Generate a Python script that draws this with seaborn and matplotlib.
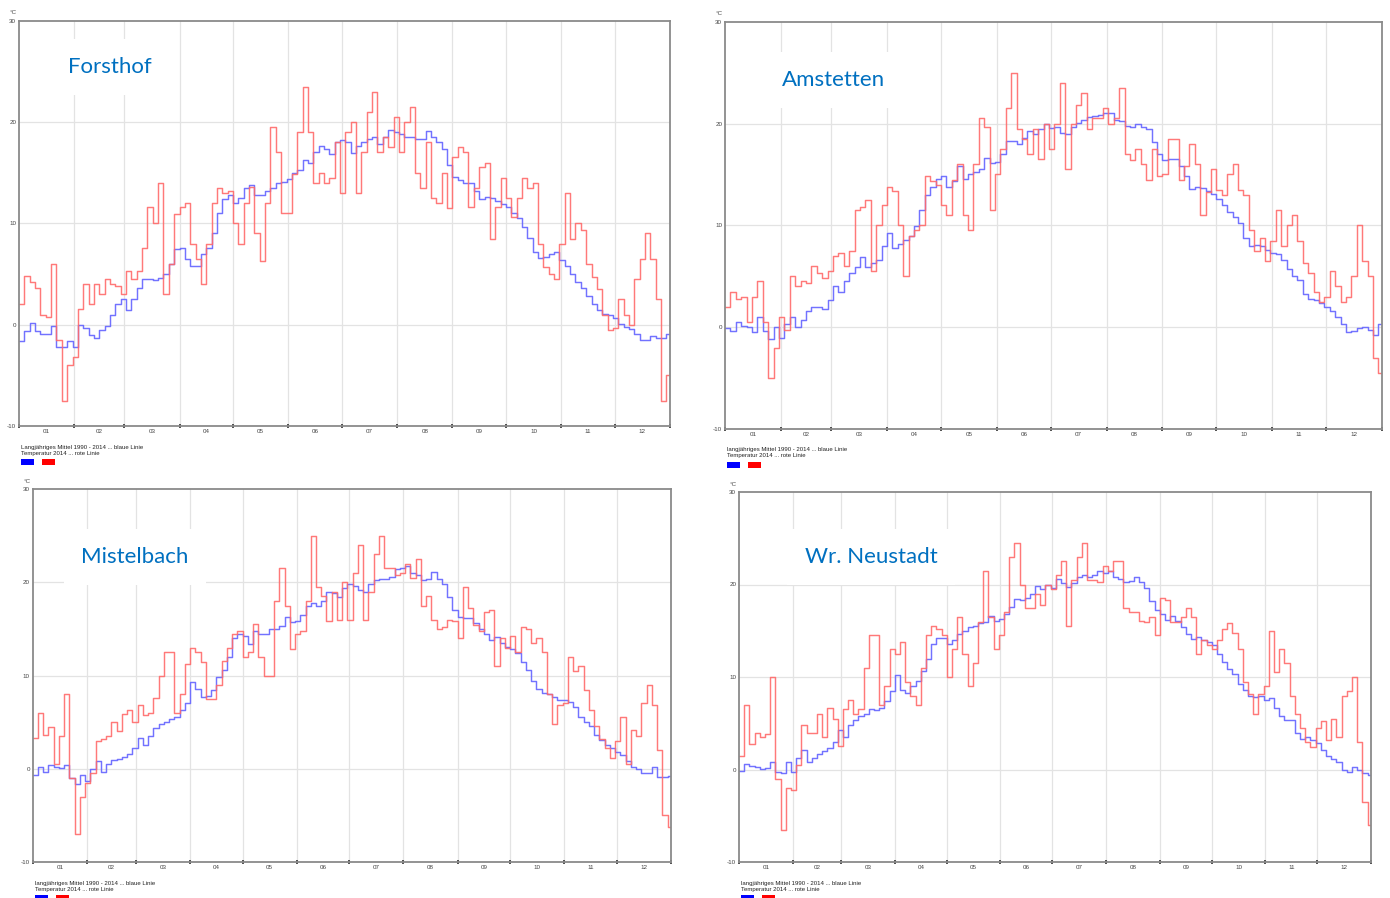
import numpy as np
import pandas as pd
import matplotlib
matplotlib.use("Agg")
import matplotlib.pyplot as plt
from matplotlib.patches import Rectangle
import seaborn as sns

# ---------------- data (3-day means, day 1 .. 365) ----------------
stations = ["Forsthof", "Amstetten", "Mistelbach", "Wr. Neustadt"]
month_labels = ["01", "02", "03", "04", "05", "06", "07", "08", "09", "10", "11", "12"]
month_starts = [0, 31, 59, 90, 120, 151, 181, 212, 243, 273, 304, 334, 365]
y_ticks = [-10, 0, 10, 20, 30]
legend_mean = "angjähriges Mittel 1990 - 2014 ... blaue Linie"
legend_2014 = "Temperatur 2014 ... rote Linie"

forsthof_2014 = [2, 4.8, 4.2, 3.6, 1.0, 0.8, 6.0, -1.5, -7.5, -4,
                 -3.2, 1.5, 4, 2, 4, 3, 4.5, 4, 3.8, 3,
                 5.3, 4.5, 5.3, 7.6, 11.6, 10, 14, 3, 6, 10.9,
                 11.6, 12, 8, 6.5, 4, 8, 12, 13.5, 13, 13.2,
                 10, 8, 12, 13.6, 9, 6.3, 12, 19.5, 17, 11,
                 11, 14.9, 19, 23.5, 19, 14, 15, 14, 14.5, 18,
                 13, 19, 20, 13, 17, 21, 23, 17, 18.5, 17.5,
                 20.5, 17, 20, 21.5, 15, 13.5, 18, 12.5, 12, 15,
                 11.5, 16.5, 17.5, 17, 11.6, 13.5, 15.6, 16, 8.5, 11.6,
                 14.5, 12.5, 10.6, 12.5, 14.5, 13.5, 14, 8, 5.7, 5,
                 4.5, 8, 13, 8.5, 10, 9.3, 6, 4.7, 3.5, 1,
                 -0.5, -0.3, 2.5, 1, 0, 4.5, 6.5, 9, 6.5, 2.5,
                 -7.5, -5]
forsthof_mean = [-1.6, -0.6, 0.2, -0.6, -0.9, -0.9, -0.1, -2.2, -2.2, -1.6,
                 -2.2, 0, -0.3, -1.0, -1.3, -0.5, -0.1, 1.0, 2.0, 2.5,
                 1.4, 2.5, 3.6, 4.5, 4.5, 4.4, 4.6, 5, 6, 7.5,
                 7.6, 6.5, 5.8, 5.8, 7, 7.6, 9, 11, 12.4, 12.8,
                 12, 12.5, 13.5, 13.8, 12.8, 12.8, 13.2, 13.5, 14, 14.1,
                 14.4, 15, 15.3, 16.3, 16, 17, 17.6, 17.3, 16.8, 18,
                 18.2, 18, 16.9, 17.6, 18, 18.3, 18.5, 17.8, 18.5, 19.2,
                 19, 18.8, 18.5, 18.5, 18.3, 18.3, 19.1, 18.5, 18, 17.3,
                 15.8, 14.6, 14.3, 14, 14, 13.2, 12.4, 12.6, 12.5, 12.2,
                 11.9, 11.6, 11, 10.5, 9.6, 8.6, 7.2, 6.6, 6.7, 7,
                 7.2, 6.4, 5.8, 5, 4.2, 3.6, 2.8, 2, 1.4, 1.1,
                 1.0, 0.7, 0.1, -0.2, -0.4, -0.9, -1.5, -1.5, -1.1, -1.3,
                 -1.3, -0.9]

amstetten_2014 = [2, 3.5, 2.8, 3, 0.5, 3, 4.5, 0.5, -5, -2,
                  1, -0.3, 5, 4, 4.5, 4.3, 6, 5.3, 4.8, 5.5,
                  7, 7.3, 6, 7.5, 11.5, 11.8, 12.5, 5.5, 10, 12,
                  13.8, 13.4, 10, 5, 9, 9.5, 10, 14.8, 14.4, 14,
                  12, 11, 14.5, 16, 11, 9.5, 16, 20.5, 19.7, 11.5,
                  15, 17.5, 21.5, 25, 19.5, 18.5, 17, 19.5, 16.5, 20,
                  17.5, 20, 24, 15.5, 20, 21.8, 23, 19.5, 20.5, 20.5,
                  21.5, 20, 20.5, 23.5, 17, 16.4, 17.5, 16, 14.5, 17.5,
                  14.8, 15, 18.5, 18.5, 14.5, 15.8, 18, 16, 11, 13.3,
                  15.5, 13.5, 13, 15, 16, 13.5, 13, 9.5, 7.5, 8.8,
                  6.5, 8.5, 11.5, 8, 10, 11, 8.5, 6.3, 5.3, 3.5,
                  2.5, 3, 5.5, 4, 2.5, 3, 5, 10, 6.5, 5,
                  -3, -4.5]
amstetten_mean = [-0.1, -0.4, 0.5, 0.1, 0, -0.5, 1, -0.4, -1.2, 0,
                  -1.1, 0.3, 1, 0, 0.7, 1.6, 2, 2, 1.8, 2.7,
                  4, 3.5, 4.5, 5.3, 5.9, 6.9, 5.9, 6.3, 6.6, 8,
                  9.2, 7.8, 8.2, 8.6, 9, 9.9, 11.5, 13, 13.8, 14.6,
                  14.8, 13.8, 14.4, 15.8, 14.6, 15, 15.2, 15.5, 16.6, 16.1,
                  16.2, 17, 18.3, 18.3, 18, 18.6, 19.3, 19, 19.5, 20,
                  19.6, 19.7, 19.1, 19, 19.7, 20.1, 20.3, 20.6, 20.7, 20.8,
                  21, 21, 20.3, 20.2, 19.8, 19.7, 20, 19.7, 19.5, 18.2,
                  17, 16.4, 16.5, 16.5, 15.8, 14.8, 13.6, 13.8, 13.7, 13.4,
                  13.1, 12.6, 12, 11.3, 10.8, 10.2, 8.8, 8, 8.1, 8,
                  7.6, 7.3, 7.2, 6.6, 5.7, 5, 4.6, 3.3, 2.8, 2.7,
                  2.4, 2, 1.6, 1, 0.3, -0.5, -0.4, -0.1, 0, -0.3,
                  -0.8, 0.3]

mistelbach_2014 = [3.3, 6, 3.6, 4.5, 0.5, 3.5, 8, -1, -7, -3,
                   -1.5, -0.5, 3, 3.2, 3.5, 5, 4, 5.9, 6.3, 5,
                   6.8, 5.8, 6, 7.6, 10, 12.5, 12.5, 6, 8, 11.2,
                   13, 12.5, 11.5, 7.5, 7.5, 9, 11.6, 13, 14.5, 14.8,
                   12, 12.5, 15.5, 12, 9.9, 10, 18, 21.5, 17.5, 12.8,
                   14.5, 14.8, 18, 25, 19.5, 18.5, 15.8, 19, 16, 20,
                   16, 21, 24, 16, 19, 23, 25, 21.5, 21.5, 20.8,
                   21, 22, 20.5, 22.5, 17.5, 18.5, 16, 15, 15.2, 16,
                   15.8, 14, 19.5, 17.2, 15.4, 14.8, 16.8, 17, 11, 14,
                   13, 14.2, 12.5, 15.2, 15, 13.5, 14, 12.5, 8, 4.8,
                   6.8, 7, 12, 10.5, 11, 8.4, 6.3, 4.6, 3.2, 2.2,
                   1.2, 3, 5.5, 0.5, 4.2, 3.5, 7, 9, 6.8, 2,
                   -5, -6.3]
mistelbach_mean = [-0.7, 0.2, -0.3, 0.4, 0.2, 0.1, 0.4, -1, -1.6, -0.7,
                   -1.3, 0, 0.8, -0.4, 0.5, 0.9, 1.0, 1.3, 1.6, 2.2,
                   3.3, 2.5, 3.5, 4.4, 4.8, 5, 5.3, 5.6, 6.3, 7,
                   9.3, 8.5, 7.7, 7.8, 8.4, 9.8, 10.6, 12, 14, 14.5,
                   14.2, 13.4, 14.8, 14.5, 14.5, 15, 15, 15.3, 16.3, 15.7,
                   15.8, 16.5, 17.5, 17.8, 17.4, 18, 19, 18.8, 18.4, 19.4,
                   19.8, 19.6, 19.2, 19, 19.8, 20.2, 20.3, 20.4, 20.6, 21.4,
                   21.5, 21.7, 21, 20.8, 20.2, 20.3, 21.1, 20.3, 19.8, 18.4,
                   17, 16.3, 16.2, 16.2, 15.6, 15, 14.5, 13.8, 14.1, 13.5,
                   13.1, 12.8, 12.4, 11.5, 10.6, 9.4, 8.5, 8.1, 8, 7.7,
                   7.4, 7.4, 7.2, 6.6, 5.6, 5, 4.6, 3.6, 3.1, 2.6,
                   2.2, 1.8, 1.5, 0.8, 0.2, 0, -0.5, -0.5, 0.2, -0.9,
                   -0.9, -0.8]

neustadt_2014 = [1.5, 7, 2.8, 4, 3.5, 3.8, 10, -1, -6.5, -2,
                 -2.2, 0.5, 4.8, 4, 4, 6, 3.5, 6.6, 5.5, 2.5,
                 6.5, 7.5, 6, 6.5, 11, 14.5, 14.5, 7, 9, 13,
                 12.5, 13.8, 9.5, 8, 7, 11, 14.5, 15.5, 15.2, 14.5,
                 10, 13, 16.5, 12.5, 9, 11.5, 16, 21.5, 16.5, 13,
                 14.5, 17, 23, 24.5, 20, 17.5, 17.5, 19, 17.8, 20,
                 19.5, 21, 22.5, 15.5, 20.5, 23, 24.5, 20.5, 20.5, 20.3,
                 22, 21.5, 22.5, 22.5, 17.5, 17, 17, 16.1, 16, 16.5,
                 14.5, 18.5, 18.3, 16, 16, 16.5, 17.5, 16.5, 12.5, 14,
                 13.5, 13, 14, 15.2, 15.8, 14.8, 13, 9.5, 8.2, 6,
                 8.2, 9, 15, 10.5, 13, 11.5, 8, 6, 4.5, 3,
                 2.4, 4.5, 5.2, 3.2, 5.5, 3.5, 8, 8.5, 10, 3,
                 -3.5, -6]
neustadt_mean = [-0.2, 0.6, 0.4, 0.3, 0.1, 0.2, 0.8, -0.3, -0.4, 0.8,
                 -0.3, 1.2, 2.1, 0.8, 1.2, 1.7, 2, 2.3, 3, 4.3,
                 3.5, 4.8, 5.3, 5.8, 6, 6.5, 6.4, 6.6, 7.4, 8.5,
                 10.2, 8.6, 8.3, 9, 9.6, 10.6, 12, 13.6, 14.2, 14.2,
                 13.6, 14, 14.6, 15, 15.4, 15.5, 15.8, 15.9, 16.6, 16.1,
                 16.3, 16.8, 17.6, 18.4, 18.3, 18.5, 19, 19.8, 19.5, 19.9,
                 19.6, 20.6, 20.2, 19.7, 20.2, 20.8, 21, 20.8, 21, 21.5,
                 21.2, 21.5, 20.8, 20.6, 20.3, 20.4, 20.8, 20.3, 19.6, 18.2,
                 17.2, 16.8, 16.2, 16.6, 16.1, 15.4, 14.7, 14.1, 14.3, 14,
                 13.8, 13.5, 12.5, 11.6, 10.9, 10.3, 9.2, 8.6, 8, 7.8,
                 8, 7.5, 7.7, 6.6, 5.8, 5.3, 5.3, 4, 3.3, 3.5,
                 3.2, 2.9, 2.1, 1.5, 1.1, 0.8, -0.1, -0.3, 0.3, -0.1,
                 -0.4, -0.6]

series_2014 = [forsthof_2014, amstetten_2014, mistelbach_2014, neustadt_2014]
series_mean = [forsthof_mean, amstetten_mean, mistelbach_mean, neustadt_mean]
step_days = 3

# ---------------- layout (pixel boxes) ----------------
W, H = 1390, 898
sns.set_theme(style="white")
plt.rcParams["font.family"] = ["Liberation Sans", "DejaVu Sans"]

fig = plt.figure(figsize=(W / 100, H / 100), dpi=100)
fig.patch.set_facecolor("white")

# (left, top, right, bottom) in pixels
boxes = [(19, 20.7, 670, 426), (725, 21.7, 1382, 429),
         (32.7, 489, 671, 862), (739, 492, 1371, 862)]
name_pos = [(110, 67), (833, 80), (135, 557), (871, 557)]
legend_first = ["L", "l", "l", "l"]

RED = "#ff6a6a"
BLUE = "#6a6aff"


def to_frame(vals):
    n = len(vals)
    day = np.append(np.arange(n) * step_days, 365)
    v = np.append(np.asarray(vals, float), vals[-1])
    return pd.DataFrame({"day": day, "temp": v})


for i, (l, t, r, b) in enumerate(boxes):
    ax = fig.add_axes([l / W, 1 - b / H, (r - l) / W, (b - t) / H])
    ax.set_facecolor("white")
    # grid
    for m in month_starts[1:-1]:
        ax.axvline(m, color="#e3e3e3", lw=0.9, zorder=0)
    for yv in [0, 10, 20]:
        ax.axhline(yv, color="#e3e3e3", lw=0.9, zorder=0)

    sns.lineplot(data=to_frame(series_mean[i]), x="day", y="temp", ax=ax,
                 color=BLUE, lw=1.05, drawstyle="steps-post", estimator=None,
                 sort=False, alpha=0.95)
    sns.lineplot(data=to_frame(series_2014[i]), x="day", y="temp", ax=ax,
                 color=RED, lw=1.05, drawstyle="steps-post", estimator=None,
                 sort=False, alpha=0.9)

    ax.set_xlim(0, 365)
    ax.set_ylim(-10, 30)
    ax.set_xlabel("")
    ax.set_ylabel("")
    ax.set_xticks(month_starts)
    ax.set_xticklabels([])
    centers = [(month_starts[k] + month_starts[k + 1]) / 2 for k in range(12)]
    ax.set_xticks(centers, minor=True)
    ax.set_xticklabels(month_labels, minor=True, fontsize=4.5, color="#444444")
    ax.tick_params(axis="x", which="major", length=2.5, width=1.2, color="#333333",
                   direction="inout", bottom=True)
    ax.tick_params(axis="x", which="minor", length=0, pad=2, bottom=True)
    ax.set_yticks(y_ticks)
    ax.set_yticklabels([str(v) for v in y_ticks], fontsize=4.5, color="#444444")
    ax.tick_params(axis="y", length=0, pad=2, left=True)
    for s in ax.spines.values():
        s.set_color("#8a8a8a")
        s.set_linewidth(1.3)
        s.set_visible(True)

    # degree label
    fig.text((l - 6) / W, 1 - (t - 8) / H, "°C", fontsize=4.5, color="#444444",
             ha="center", va="center")

    # station name
    nx, ny = name_pos[i]
    fig.text(nx / W, 1 - ny / H, stations[i], fontsize=16, color="#0070C0",
             family="Lato", ha="center", va="center",
             bbox=dict(boxstyle="square,pad=0.8", facecolor="white", edgecolor="none"))

    # legend below
    lx = l + 2
    fig.text(lx / W, 1 - (b + 21) / H, legend_first[i] + legend_mean, fontsize=4.3,
             color="#222222", ha="left", va="center")
    fig.text(lx / W, 1 - (b + 27) / H, legend_2014, fontsize=4.3,
             color="#222222", ha="left", va="center")
    fig.add_artist(Rectangle((lx / W, 1 - (b + 39) / H), 13 / W, 6 / H,
                             transform=fig.transFigure, facecolor="#0000ff",
                             edgecolor="none"))
    fig.add_artist(Rectangle(((lx + 21) / W, 1 - (b + 39) / H), 13 / W, 6 / H,
                             transform=fig.transFigure, facecolor="#ff0000",
                             edgecolor="none"))

fig.savefig("out.png", dpi=100, facecolor="white")
